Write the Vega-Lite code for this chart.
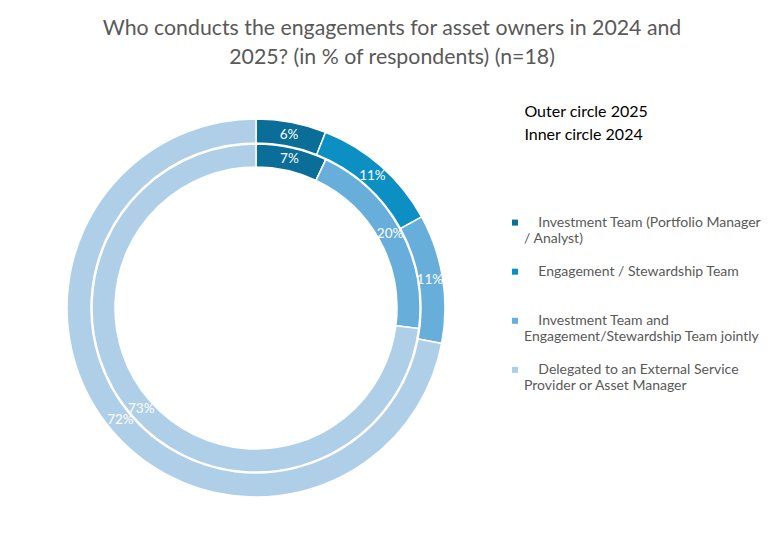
{
  "$schema": "https://vega.github.io/schema/vega-lite/v6.json",
  "width": 400,
  "height": 400,
  "autosize": {"type": "none"},
  "padding": {"left": 56, "top": 108, "right": 328, "bottom": 38},
  "background": "white",
  "config": {"view": {"stroke": null}, "font": "Lato"},
  "title": {
    "text": ["Who conducts the engagements for asset owners in 2024 and", "2025? (in % of respondents) (n=18)"],
    "fontSize": 21.3,
    "fontWeight": "normal",
    "color": "#595959",
    "lineHeight": 29,
    "anchor": "middle",
    "frame": "group",
    "dx": 136,
    "offset": 36
  },
  "data": {
    "values": [
      {"year": 2025, "category": "Investment Team (Portfolio Manager / Analyst)", "rank": 1, "value": 0.06},
      {"year": 2025, "category": "Engagement / Stewardship Team", "rank": 2, "value": 0.11},
      {"year": 2025, "category": "Investment Team and Engagement/Stewardship Team jointly", "rank": 3, "value": 0.11},
      {"year": 2025, "category": "Delegated to an External Service Provider or Asset Manager", "rank": 4, "value": 0.72},
      {"year": 2024, "category": "Investment Team (Portfolio Manager / Analyst)", "rank": 1, "value": 0.07},
      {"year": 2024, "category": "Engagement / Stewardship Team", "rank": 2, "value": 0.0},
      {"year": 2024, "category": "Investment Team and Engagement/Stewardship Team jointly", "rank": 3, "value": 0.20},
      {"year": 2024, "category": "Delegated to an External Service Provider or Asset Manager", "rank": 4, "value": 0.73}
    ]
  },
  "layer": [
    {
      "transform": [{"filter": "datum.year == 2025"}],
      "mark": {"type": "arc", "radius": 189, "radius2": 165, "stroke": "white", "strokeWidth": 1.5},
      "encoding": {
        "theta": {"field": "value", "type": "quantitative", "stack": true},
        "order": {"field": "rank", "type": "quantitative"},
        "color": {
          "field": "category",
          "type": "nominal",
          "scale": {
            "domain": [
              "Investment Team (Portfolio Manager / Analyst)",
              "Engagement / Stewardship Team",
              "Investment Team and Engagement/Stewardship Team jointly",
              "Delegated to an External Service Provider or Asset Manager"
            ],
            "range": ["#0B6E99", "#0C90C4", "#67AEDB", "#AFCFE8"]
          },
          "legend": {
            "orient": "none",
            "legendX": 452,
            "legendY": -4,
            "direction": "vertical",
            "title": ["\u200b\u00a0\u00a0\u00a0\u00a0Outer circle 2025", "\u200b\u00a0\u00a0\u00a0\u00a0Inner circle 2024"],
            "titleFontSize": 16,
            "titleFontWeight": "normal",
            "titleColor": "#000000",
            "titleLineHeight": 22.6,
            "titlePadding": 73,
            "symbolType": "square",
            "symbolSize": 36,
            "symbolStrokeWidth": 0,
            "labelOffset": 2,
            "labelFontSize": 14,
            "labelColor": "#595959",
            "labelLimit": 400,
            "rowPadding": 19.1,
            "labelExpr": "datum.label == 'Investment Team (Portfolio Manager / Analyst)' ? ['\u200b\u00a0\u00a0\u00a0\u00a0Investment Team (Portfolio Manager', '/ Analyst)'] : datum.label == 'Engagement / Stewardship Team' ? ['\u200b\u00a0\u00a0\u00a0\u00a0Engagement / Stewardship Team', '\u200b\u00a0'] : datum.label == 'Investment Team and Engagement/Stewardship Team jointly' ? ['\u200b\u00a0\u00a0\u00a0\u00a0Investment Team and', 'Engagement/Stewardship Team jointly'] : ['\u200b\u00a0\u00a0\u00a0\u00a0Delegated to an External Service', 'Provider or Asset Manager']",
            "encode": {"labels": {"update": {"dy": {"value": 8.5}}}}
          }
        }
      }
    },
    {
      "transform": [{"filter": "datum.year == 2024"}],
      "mark": {"type": "arc", "radius": 164, "radius2": 141, "stroke": "white", "strokeWidth": 1.5},
      "encoding": {
        "theta": {"field": "value", "type": "quantitative", "stack": true},
        "order": {"field": "rank", "type": "quantitative"},
        "color": {"field": "category", "type": "nominal"}
      }
    },
    {
      "transform": [{"filter": "datum.year == 2025"}],
      "mark": {"type": "text", "radius": 176, "color": "white", "fontSize": 13.5},
      "encoding": {
        "theta": {"field": "value", "type": "quantitative", "stack": true},
        "order": {"field": "rank", "type": "quantitative"},
        "detail": {"field": "category", "type": "nominal"},
        "text": {"field": "value", "type": "quantitative", "format": ".0%"}
      }
    },
    {
      "transform": [{"filter": "datum.year == 2024 && datum.value > 0"}],
      "mark": {"type": "text", "radius": 153, "color": "white", "fontSize": 13.5},
      "encoding": {
        "theta": {"field": "value", "type": "quantitative", "stack": true},
        "order": {"field": "rank", "type": "quantitative"},
        "detail": {"field": "category", "type": "nominal"},
        "text": {"field": "value", "type": "quantitative", "format": ".0%"}
      }
    }
  ]
}
